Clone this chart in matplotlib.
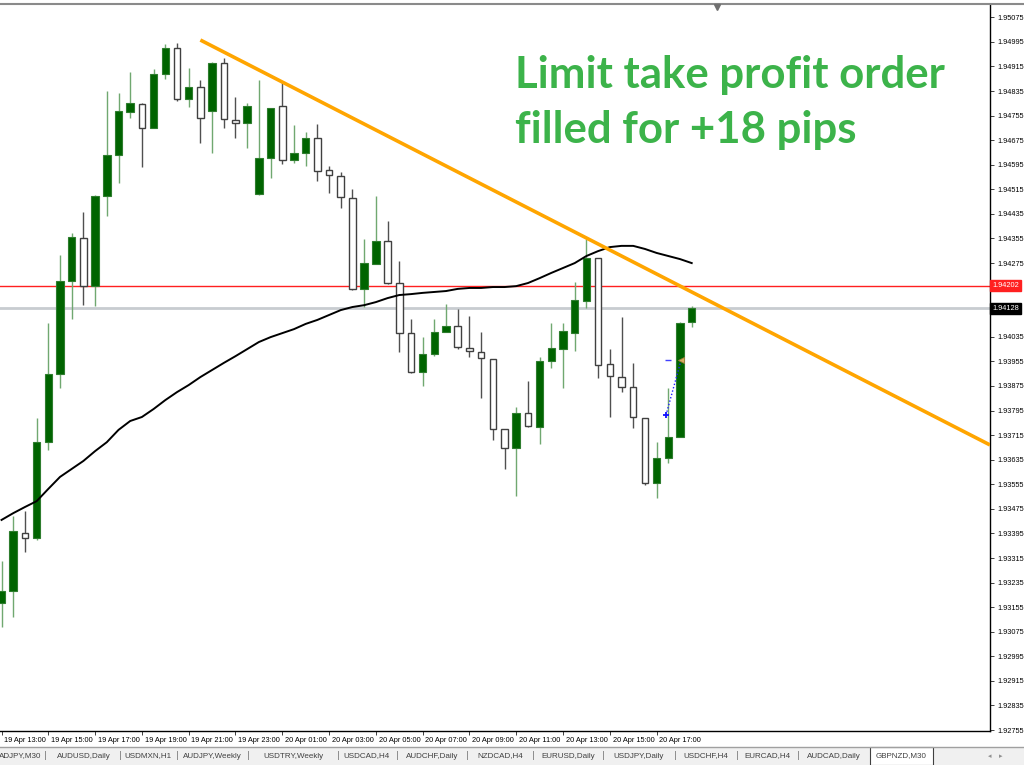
import numpy as np
import matplotlib
matplotlib.use('Agg')
import matplotlib.pyplot as plt
from matplotlib.patches import Rectangle
from matplotlib.lines import Line2D
from matplotlib.transforms import ScaledTranslation

# GBPNZD M30 candles, 19 Apr 13:00 -> 20 Apr 18:30
opens = [1.93168, 1.93207, 1.93396, 1.93380, 1.93692, 1.93914, 1.94217, 1.94357, 1.94200, 1.94493,
         1.94627, 1.94767, 1.94793, 1.94715, 1.94890, 1.94975, 1.94809, 1.94848, 1.94770, 1.94926,
         1.94741, 1.94731, 1.94500, 1.94617, 1.94786, 1.94611, 1.94633, 1.94682, 1.94578, 1.94558,
         1.94487, 1.94191, 1.94272, 1.94347, 1.94210, 1.94047, 1.93920, 1.93979, 1.94051, 1.94070,
         1.93999, 1.93985, 1.93963, 1.93735, 1.93673, 1.93787, 1.93741, 1.93956, 1.93995, 1.94047,
         1.94151, 1.94291, 1.93946, 1.93904, 1.93872, 1.93771, 1.93559, 1.93640, 1.93709, 1.94083]
highs = [1.93305, 1.93452, 1.93468, 1.93771, 1.94080, 1.94301, 1.94373, 1.94441, 1.94496, 1.94835,
         1.94829, 1.94897, 1.94796, 1.94907, 1.94988, 1.94991, 1.94910, 1.94871, 1.94930, 1.94943,
         1.94816, 1.94796, 1.94871, 1.94780, 1.94864, 1.94724, 1.94702, 1.94728, 1.94591, 1.94571,
         1.94516, 1.94353, 1.94493, 1.94412, 1.94282, 1.94093, 1.94034, 1.94093, 1.94142, 1.94125,
         1.94103, 1.94051, 1.93963, 1.93735, 1.93806, 1.93891, 1.93969, 1.94080, 1.94080, 1.94213,
         1.94353, 1.94291, 1.93995, 1.94099, 1.93950, 1.93771, 1.93692, 1.93868, 1.94083, 1.94135]
lows = [1.93090, 1.93123, 1.93334, 1.93373, 1.93666, 1.93868, 1.94093, 1.94138, 1.94135, 1.94428,
        1.94536, 1.94747, 1.94588, 1.94715, 1.94874, 1.94803, 1.94783, 1.94666, 1.94633, 1.94715,
        1.94682, 1.94650, 1.94496, 1.94552, 1.94597, 1.94601, 1.94591, 1.94542, 1.94503, 1.94454,
        1.94187, 1.94132, 1.94272, 1.94207, 1.93985, 1.93917, 1.93875, 1.93972, 1.94051, 1.93995,
        1.93969, 1.93836, 1.93699, 1.93605, 1.93517, 1.93741, 1.93686, 1.93933, 1.93868, 1.93989,
        1.94129, 1.93901, 1.93774, 1.93855, 1.93738, 1.93553, 1.93510, 1.93624, 1.93709, 1.94067]
closes = [1.93207, 1.93403, 1.93380, 1.93692, 1.93914, 1.94217, 1.94360, 1.94200, 1.94493, 1.94627,
          1.94770, 1.94796, 1.94715, 1.94890, 1.94975, 1.94809, 1.94848, 1.94747, 1.94926, 1.94744,
          1.94731, 1.94786, 1.94617, 1.94780, 1.94611, 1.94633, 1.94682, 1.94575, 1.94562, 1.94490,
          1.94191, 1.94275, 1.94347, 1.94210, 1.94047, 1.93920, 1.93979, 1.94051, 1.94070, 1.94002,
          1.93989, 1.93966, 1.93735, 1.93673, 1.93787, 1.93745, 1.93956, 1.93999, 1.94054, 1.94155,
          1.94291, 1.93943, 1.93907, 1.93872, 1.93774, 1.93559, 1.93640, 1.93709, 1.94080, 1.94128]
# moving average
ma = [1.93439, 1.93461, 1.93481, 1.93500, 1.93540, 1.93579, 1.93605, 1.93631, 1.93663, 1.93692,
      1.93732, 1.93761, 1.93774, 1.93800, 1.93829, 1.93855, 1.93878, 1.93904, 1.93927, 1.93950,
      1.93972, 1.93995, 1.94018, 1.94034, 1.94047, 1.94060, 1.94077, 1.94090, 1.94106, 1.94122,
      1.94132, 1.94138, 1.94148, 1.94161, 1.94171, 1.94174, 1.94178, 1.94181, 1.94184, 1.94191,
      1.94194, 1.94194, 1.94197, 1.94197, 1.94200, 1.94210, 1.94226, 1.94243, 1.94259, 1.94275,
      1.94298, 1.94314, 1.94327, 1.94331, 1.94331, 1.94321, 1.94308, 1.94298, 1.94288, 1.94275]

time_labels = ["19 Apr 13:00", "19 Apr 15:00", "19 Apr 17:00", "19 Apr 19:00", "19 Apr 21:00",
               "19 Apr 23:00", "20 Apr 01:00", "20 Apr 03:00", "20 Apr 05:00", "20 Apr 07:00",
               "20 Apr 09:00", "20 Apr 11:00", "20 Apr 13:00", "20 Apr 15:00", "20 Apr 17:00"]
price_ticks = [1.95075 - 0.0008 * k for k in range(30)]
hidden_ticks = [1.94195, 1.94115]

trend_idx = [17, 84.5]
trend_px = [1.95001, 1.93683]
red_level = 1.94202
bid_level = 1.94128
entry_idx, entry_px = 56.8, 1.93780
exit_idx, exit_px = 58.1, 1.93960

tabs = ["ADJPY,M30", "AUDUSD,Daily", "USDMXN,H1", "AUDJPY,Weekly", "USDTRY,Weekly", "USDCAD,H4",
        "AUDCHF,Daily", "NZDCAD,H4", "EURUSD,Daily", "USDJPY,Daily", "USDCHF,H4", "EURCAD,H4",
        "AUDCAD,Daily", "GBPNZD,M30"]
tab_cx = [20, 84, 148, 212, 293, 367, 432, 500, 568, 639, 706, 767, 834, 901]
tab_sep = [45, 120, 177, 248, 338, 397, 467, 533, 603, 675, 737, 798]

W, H = 1024, 765
fig = plt.figure(figsize=(W / 100, H / 100), dpi=100)
fig.patch.set_facecolor('white')
ax = fig.add_axes([0, 1 - 731 / H, 990 / W, 726 / H])

o = np.array(opens); c = np.array(closes); hi = np.array(highs); lo = np.array(lows)
x = np.arange(len(o))
bull = c > o

ax.axhline(red_level, color='#ff2020', lw=1, zorder=1)
ax.axhline(bid_level, color='#c8ccd0', lw=2, zorder=1)

ax.vlines(x[bull], lo[bull], hi[bull], color='#70a870', lw=1, zorder=2)
ax.vlines(x[~bull], lo[~bull], hi[~bull], color='#505050', lw=1, zorder=2)
ax.bar(x[bull], (c - o)[bull], bottom=o[bull], width=0.64, color='#006400',
       edgecolor='#2e7d2e', lw=0.8, zorder=3)
ax.bar(x[~bull], (o - c)[~bull], bottom=c[~bull], width=0.56, color='white',
       edgecolor='#404040', lw=1, zorder=3)

ax.plot(x, ma, color='black', lw=1.4, zorder=4)
ax.plot(trend_idx, trend_px, color='#ffa500', lw=2.6, zorder=5, solid_capstyle='butt')

# trade markers
ax.plot([entry_idx, exit_idx], [entry_px, exit_px], color='#2020ff', lw=1, ls=(0, (1, 1.5)), zorder=6)
ax.plot(entry_idx, entry_px, marker='+', color='#1010ff', ms=5, mew=1.3, zorder=7)
ax.plot(entry_idx + 0.2, exit_px, marker='_', color='#4040ff', ms=5, mew=1, zorder=7)
ax.plot(exit_idx, exit_px, marker='<', color='#d8b060', ms=5, mec='#a08040', mew=0.6, zorder=7)

ax.set_xlim(-0.13, 84.5)
ax.set_ylim(1.92752, 1.95115)

for s in ['top', 'left']:
    ax.spines[s].set_visible(False)
for s in ['right', 'bottom']:
    ax.spines[s].set_color('black')
    ax.spines[s].set_linewidth(1)

ax.yaxis.tick_right()
shown = [t for t in price_ticks if min(abs(t - h) for h in hidden_ticks) > 1e-7]
ax.set_yticks(shown)
ax.set_yticklabels(['%.5f' % t for t in shown], fontsize=5.3, family='Liberation Sans')
ax.tick_params(axis='y', length=3, width=0.7, pad=2, color='#404040')

ax.set_xticks(x[::4])
ax.set_xticklabels(time_labels, fontsize=5.3, family='Liberation Sans')
ax.tick_params(axis='x', length=3, width=0.7, pad=1.5, color='#404040')
for lbl in ax.get_xticklabels():
    lbl.set_ha('left')
    lbl.set_transform(lbl.get_transform() + ScaledTranslation(2 / 72, 0, fig.dpi_scale_trans))

ytr = ax.get_yaxis_transform()
ax.text(1.002, red_level, '%.5f' % red_level, transform=ytr, color='white', fontsize=5.3,
        family='Liberation Sans', va='center', ha='left', clip_on=False, zorder=10,
        bbox=dict(boxstyle='square,pad=0.3', fc='#ff2020', ec='#ff2020'))
ax.text(1.002, bid_level, '%.5f' % bid_level, transform=ytr, color='white', fontsize=5.3,
        family='Liberation Sans', va='center', ha='left', clip_on=False, zorder=10,
        bbox=dict(boxstyle='square,pad=0.3', fc='black', ec='black'))

fig.text(515 / W, 1 - 55 / H, 'Limit take profit order\nfilled for +18 pips', ha='left', va='top',
         fontsize=31.5, fontweight='bold', family='Lato', color='#3cb34a', linespacing=1.45)

# window chrome: top line, chart-shift mark, tab bar
fig.add_artist(Line2D([0, 1], [1 - 4 / H] * 2, color='#8a8a8a', lw=1.5))
fig.add_artist(Line2D([717 / W], [1 - 7 / H], marker='v', color='#707070', ms=4))
fig.add_artist(Rectangle((0, 0), 1, 18 / H, transform=fig.transFigure, fc='#f0f0f0', ec='none'))
fig.add_artist(Line2D([0, 1], [18 / H] * 2, color='#a0a0a0', lw=1))
fig.add_artist(Rectangle((870 / W, 0), 63 / W, 18 / H, transform=fig.transFigure, fc='white',
                         ec='#404040', lw=0.8))
for name, cx in zip(tabs, tab_cx):
    fig.text(cx / W, 9 / H, name, ha='center', va='center', fontsize=5.8,
             family='Liberation Sans', color='#404040')
for sx in tab_sep:
    fig.text(sx / W, 9 / H, '|', ha='center', va='center', fontsize=6, color='#707070')
fig.text(990 / W, 9 / H, '\u25c2', ha='center', va='center', fontsize=5, color='#909090')
fig.text(1001 / W, 9 / H, '\u25b8', ha='center', va='center', fontsize=5, color='#909090')

fig.savefig('out.png', dpi=100)
